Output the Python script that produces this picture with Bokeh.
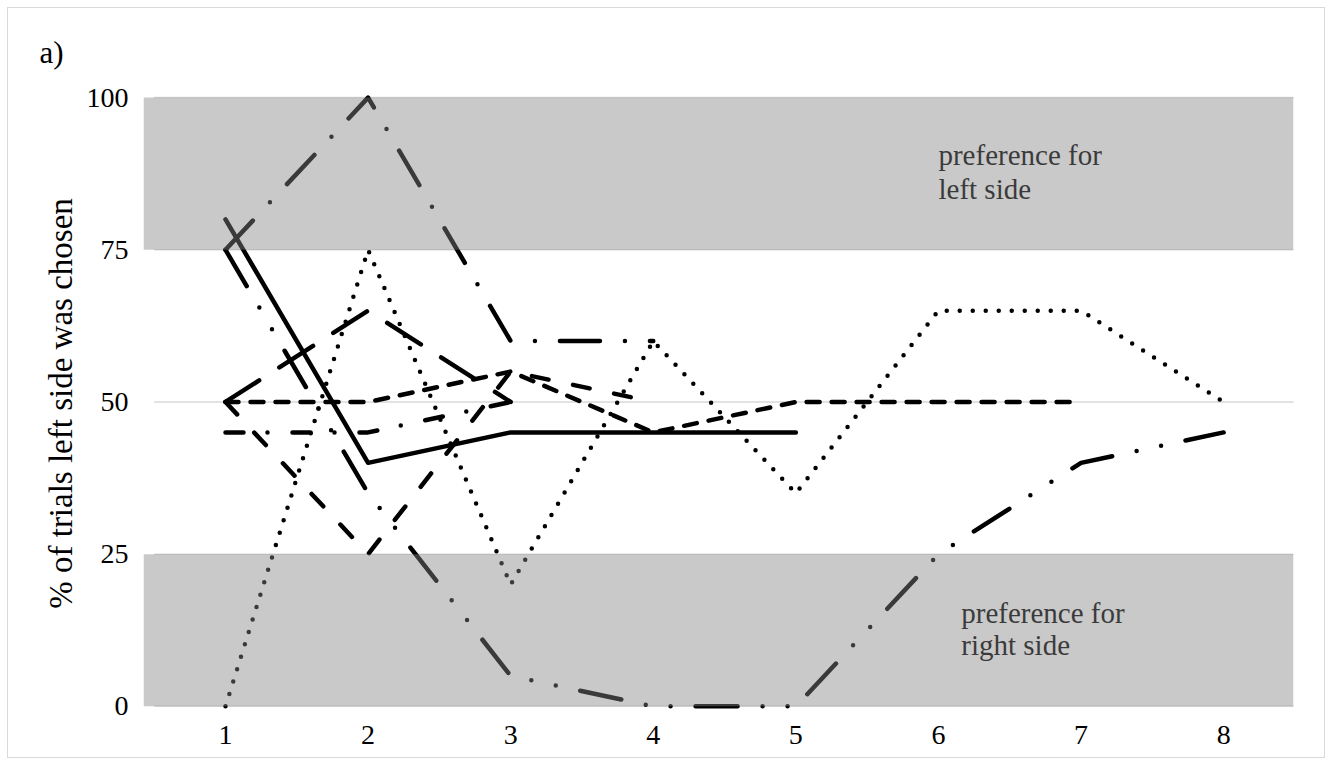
from bokeh.plotting import figure
from bokeh.models import Range1d, FixedTicker, Label, BoxAnnotation
from bokeh.embed import file_html
from bokeh.resources import INLINE

# ---- data ----
trials = [1, 2, 3, 4, 5, 6, 7, 8]
y_ticks = [0, 25, 50, 75, 100]

s_solid = [80, 40, 45, 45, 45]
s_dotted = [0, 75, 20, 60, 35, 65, 65, 50]
s_longdashdot = [75, 100, 60, 60]
s_longdashdotdot = [75, 35, 5, 0, 0, 25, 40, 45]
s_longdash = [50, 65, 50]
s_shortdash = [50, 50, 55, 45, 50, 50, 50]
s_dashdot = [45, 45, 50]
s_dash = [50, 25, 55, 50]

band_left = (75, 100)
band_right = (0, 25)

FONT = "Liberation Serif"

p = figure(width=1316, height=749,
           x_range=Range1d(0.425, 8.49), y_range=Range1d(-1.5, 101),
           output_backend="svg", toolbar_location=None,
           min_border_left=135, min_border_right=31,
           min_border_top=83, min_border_bottom=42)
p.styles = {"margin-left": "8px", "margin-top": "8px",
            "outline": "1.5px solid #d9d9d9"}
p.outline_line_color = None
p.xgrid.visible = False
p.ygrid.visible = False

# title "a)"
p.title.text = "a)"
p.title.align = "left"
p.title.text_font = FONT
p.title.text_font_size = "31px"
p.title.text_font_style = "normal"
p.title.text_color = "black"
p.title.offset = -104
p.title.standoff = 44

# grid lines
p.segment(x0=trials[0] - 0.5, x1=trials[-1] + 0.5, y0=y_ticks, y1=y_ticks,
          line_color="#d9d9d9", line_width=1.5)

series = [
    (s_solid, ""),
    (s_dotted, "0 13"),
    (s_longdashdot, "40 25 0 25"),
    (s_longdashdotdot, "42 25 0 25 0 25"),
    (s_longdash, "40 24"),
    (s_shortdash, "13 12"),
    (s_dashdot, "18 24 0 25"),
    (s_dash, "17 25"),
]
for vals, dash in series:
    kw = dict(line_color="black", line_width=4.5, line_cap="round", line_join="round")
    if dash:
        kw["line_dash"] = dash
    p.line(trials[:len(vals)], vals, **kw)

# axes
for ax in (p.xaxis, p.yaxis):
    ax.axis_line_color = None
    ax.major_tick_line_color = None
    ax.minor_tick_line_color = None
    ax.major_label_text_font = FONT
    ax.major_label_text_font_size = "28px"
    ax.major_label_text_color = "black"
p.xaxis.ticker = FixedTicker(ticks=trials)
p.yaxis.ticker = FixedTicker(ticks=y_ticks)
p.xaxis.major_label_standoff = 4
p.yaxis.major_label_standoff = 9
p.yaxis.axis_label = "% of trials left side was chosen"
p.yaxis.axis_label_text_font = FONT
p.yaxis.axis_label_text_font_size = "33px"
p.yaxis.axis_label_text_font_style = "normal"
p.yaxis.axis_label_text_color = "black"
p.yaxis.axis_label_standoff = 5

# labels (under the translucent bands)
def lab(x, y, t, size="29px"):
    p.add_layout(Label(x=x, y=y, text=t, text_font=FONT, text_font_size=size,
                       text_color="black", text_baseline="alphabetic"))

lab(6.0, 90.6, "preference for")
lab(6.0, 85.0, "left side")
lab(6.16, 15.3, "preference for")
lab(6.16, 10.1, "right side")

for b in (band_left, band_right):
    p.add_layout(BoxAnnotation(bottom=b[0], top=b[1], fill_color=(133, 133, 133),
                               fill_alpha=0.44, line_color=None))

open("out.html", "w").write(file_html(p, INLINE))
